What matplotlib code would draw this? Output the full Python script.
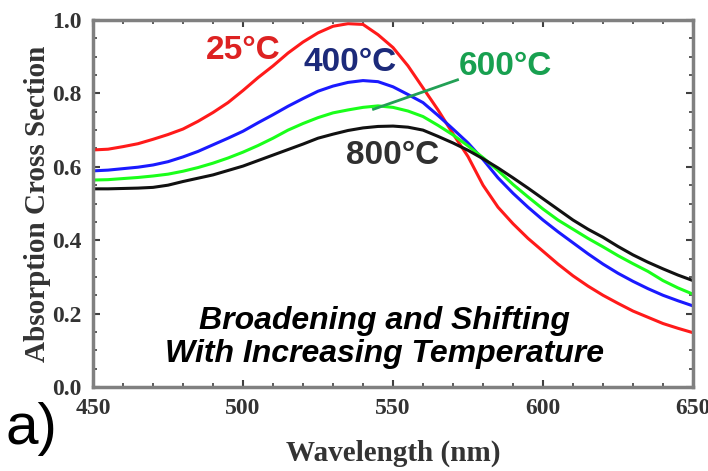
import matplotlib
matplotlib.use("Agg")
import matplotlib.pyplot as plt
from matplotlib.ticker import MultipleLocator

# Absorption cross section vs wavelength at four temperatures
wavelength = [450, 455, 460, 465, 470, 475, 480, 485, 490, 495, 500, 505, 510, 515, 520,
              525, 530, 535, 540, 545, 550, 555, 560, 565, 570, 575, 580, 585, 590, 595,
              600, 605, 610, 615, 620, 625, 630, 635, 640, 645, 650]

sigma_25 = [0.646, 0.648, 0.655, 0.663, 0.675, 0.688, 0.703, 0.724, 0.748, 0.775, 0.808,
            0.843, 0.875, 0.91, 0.94, 0.965, 0.983, 0.99, 0.988, 0.96, 0.925, 0.875,
            0.815, 0.755, 0.69, 0.628, 0.55, 0.49, 0.445, 0.405, 0.37, 0.335, 0.303,
            0.275, 0.25, 0.228, 0.207, 0.19, 0.173, 0.16, 0.148]

sigma_400 = [0.589, 0.591, 0.595, 0.599, 0.605, 0.614, 0.627, 0.642, 0.66, 0.678, 0.697,
             0.72, 0.742, 0.765, 0.786, 0.806, 0.82, 0.83, 0.835, 0.832, 0.818, 0.797,
             0.775, 0.74, 0.703, 0.665, 0.62, 0.57, 0.528, 0.49, 0.455, 0.423, 0.393,
             0.363, 0.335, 0.31, 0.288, 0.268, 0.25, 0.235, 0.221]

sigma_600 = [0.564, 0.565, 0.568, 0.571, 0.575, 0.58, 0.588, 0.598, 0.61, 0.624, 0.64,
             0.658, 0.678, 0.7, 0.718, 0.734, 0.747, 0.755, 0.762, 0.766, 0.762, 0.752,
             0.737, 0.713, 0.687, 0.657, 0.625, 0.59, 0.552, 0.518, 0.485, 0.455, 0.43,
             0.405, 0.382, 0.358, 0.336, 0.315, 0.29, 0.27, 0.253]

sigma_800 = [0.54, 0.54, 0.541, 0.542, 0.544, 0.55, 0.56, 0.569, 0.578, 0.59, 0.602,
             0.617, 0.632, 0.647, 0.662, 0.678, 0.689, 0.699, 0.706, 0.71, 0.711, 0.708,
             0.7, 0.683, 0.665, 0.645, 0.622, 0.597, 0.57, 0.542, 0.513, 0.484, 0.455,
             0.43, 0.408, 0.383, 0.36, 0.34, 0.322, 0.305, 0.29]

serif = "Liberation Serif"
sans = "Liberation Sans"

fig = plt.figure(figsize=(7.08, 4.71), dpi=100)
ax = fig.add_axes([0.1314, 0.1783, 0.8474, 0.7792])

ax.plot(wavelength, sigma_25, color="#ff1a1a", lw=2.2)
ax.plot(wavelength, sigma_400, color="#1a1aff", lw=2.2)
ax.plot(wavelength, sigma_600, color="#1aff1a", lw=2.2)
ax.plot(wavelength, sigma_800, color="#111111", lw=2.2)

ax.set_xlim(450, 650)
ax.set_ylim(0.0, 1.0)
ax.xaxis.set_major_locator(MultipleLocator(50))
ax.xaxis.set_minor_locator(MultipleLocator(10))
ax.yaxis.set_major_locator(MultipleLocator(0.2))
ax.yaxis.set_minor_locator(MultipleLocator(0.05))
ax.yaxis.set_major_formatter(plt.FuncFormatter(lambda v, p: f"{v:.1f}"))

for side in ax.spines.values():
    side.set_color("#808080")
    side.set_linewidth(2.5)
ax.tick_params(which="both", direction="in", top=True, right=True, color="#404040")
ax.tick_params(which="major", length=5, width=1.5, pad=8)
ax.tick_params(which="minor", length=3, width=1.2)
for lab in ax.get_xticklabels() + ax.get_yticklabels():
    lab.set_fontfamily(serif)
    lab.set_fontweight("bold")
    lab.set_fontsize(17)
    lab.set_color("#333333")

ax.set_xlabel("Wavelength (nm)", fontfamily=serif, fontweight="bold",
              fontsize=21, color="#333333", labelpad=15)
ax.set_ylabel("Absorption Cross Section", fontfamily=serif, fontweight="bold",
              fontsize=21, color="#333333", labelpad=1)

# temperature labels
lbl = dict(fontfamily=sans, fontweight="bold", fontsize=24, ha="center", va="center")
ax.text(500, 0.918, "25°C", color="#dd2222", **lbl)
ax.text(535.7, 0.883, "400°C", color="#1c2a7a", **lbl)
ax.text(587.3, 0.872, "600°C", color="#18a050", **lbl)
ax.text(550, 0.632, "800°C", color="#303030", **lbl)
ax.plot([543.5, 571.5], [0.757, 0.837], color="#22a055", lw=2)

ax.text(547.3, 0.135, "Broadening and Shifting\nWith Increasing Temperature",
        fontfamily=sans, fontweight="bold", fontstyle="italic", fontsize=23,
        ha="center", va="center", linespacing=1.15)

fig.text(0.008, 0.058, "a)", fontfamily=sans, fontsize=42, ha="left", va="baseline")

fig.savefig("out.png", dpi=100)
